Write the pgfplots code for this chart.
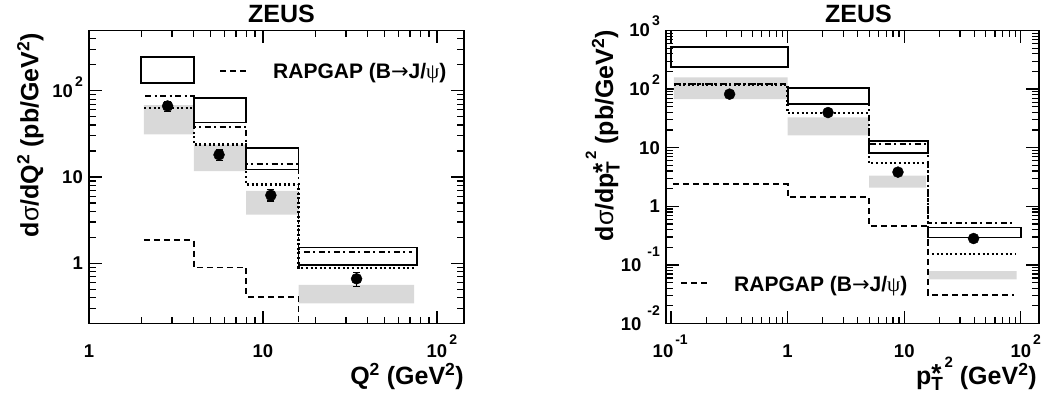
\documentclass[border=0pt]{standalone}
\usepackage{fontspec}
\setmainfont{Liberation Sans}
\newfontfamily\serif{Liberation Serif}
\newfontfamily\dejavu{DejaVu Sans}
\usepackage{pgfplots}
\pgfplotsset{compat=1.18}
\definecolor{grayband}{RGB}{217,217,217}
\newcommand\rexp[2][13bp]{\rlap{\hspace{2bp}\raisebox{#1}{\fontsize{14bp}{14bp}\selectfont #2}}}
\newcommand\rexpw[2][11bp]{\hspace{2bp}\raisebox{#1}{\fontsize{14bp}{14bp}\selectfont #2}}
\newcommand\lab{\fontsize{25bp}{25bp}\selectfont\bfseries}
\newcommand\pTs{p\rlap{\raisebox{-6.5bp}{\fontsize{19bp}{19bp}\selectfont T}}\raisebox{2bp}{\fontsize{26bp}{26bp}\selectfont *}\hspace{3bp}\raisebox{17bp}{\fontsize{15bp}{15bp}\selectfont 2}}
\newcommand\legtext{RAPGAP (B{\dejavu\mdseries →}J/{\serif\mdseries ψ})}
\tikzset{
  gband/.style={fill=grayband, draw=none},
  hbox/.style={black, line width=1.8bp, line cap=rect},
  dsh/.style={black, line width=1.8bp, dash pattern=on 6bp off 4bp},
  dtt/.style={black, line width=2.3bp, dash pattern=on 2bp off 2.6bp},
  dshdt/.style={black, line width=1.8bp, dash pattern=on 6bp off 3.5bp on 2bp off 3.5bp},
}
\begin{document}
\begin{tikzpicture}[x=1bp,y=1bp]
\useasboundingbox (0,0) rectangle (1044,398);
% ---------------- left panel ----------------
\begin{axis}[scale only axis, xmode=log, ymode=log,
  at={(89bp,74.5bp)}, anchor=south west,
  width=375bp, height=293bp,
  xmin=1, xmax=143, ymin=0.2, ymax=500,
  axis line style={line width=1.8bp},
  every tick/.style={black, line width=1.2bp},
  major tick length=13bp, minor tick length=7bp,
  tick align=inside, xtick pos=both, ytick pos=both,
  xticklabel pos=lower, yticklabel pos=left,
  tick label style={font=\fontsize{18.5bp}{18.5bp}\selectfont\bfseries, inner sep=0pt},
  x tick label style={anchor=base, yshift=-33.5bp},
  y tick label style={anchor=base east, xshift=-6bp, yshift=-6.5bp},
  xtick={1,10,100}, xticklabels={1,10,{10\rexp{2}}},
  minor xtick={2,3,4,5,6,7,8,9,20,30,40,50,60,70,80,90},
  ytick={1,10,100}, yticklabels={{1\hspace{6bp}},{10\hspace{12bp}},{10\rexpw{2}}},
  minor ytick={0.3,0.4,0.5,0.6,0.7,0.8,0.9,2,3,4,5,6,7,8,9,20,30,40,50,60,70,80,90,200,300,400},
]
\addplot[gband] coordinates {(2.07,31.3) (4,31.3) (4,68.3) (2.07,68.3) (2.07,31.3)};
\addplot[gband] coordinates {(4,11.7) (8,11.7) (8,23.8) (4,23.8) (4,11.7)};
\addplot[gband] coordinates {(8,3.65) (16,3.65) (16,6.9) (8,6.9) (8,3.65)};
\addplot[gband] coordinates {(16,0.343) (74,0.343) (74,0.562) (16,0.562) (16,0.343)};
\addplot[dsh, const plot] coordinates {(2.07,1.84) (4,0.89) (8,0.41) (16,0.1) (74,0.1)};
\addplot[dtt, const plot] coordinates {(2.08,63.7) (4,23.8) (8,8.2) (16,0.88) (74,0.88)};
\addplot[dshdt, const plot] coordinates {(2.1,86.8) (4,38.4) (8,14.0) (16,1.34) (72,1.34)};
\addplot[hbox] coordinates {(2,122) (4,122) (4,249) (2,249) (2,122)};
\addplot[hbox] coordinates {(4,42.8) (8,42.8) (8,81.6) (4,81.6) (4,42.8)};
\addplot[hbox] coordinates {(8,12.2) (16,12.2) (16,21.6) (8,21.6) (8,12.2)};
\addplot[hbox] coordinates {(16,0.957) (77,0.957) (77,1.52) (16,1.52) (16,0.957)};
\addplot[only marks, mark=*, mark size=5.5bp, black,
    error bars/.cd, y dir=both, y explicit,
    error bar style={line width=1.6bp},
    error mark options={rotate=90, line width=1.6bp, mark size=3.5bp}]
 coordinates {
 (2.83,66.6) += (0,8) -= (0,9.3)
 (5.59,18.1) += (0,2.6) -= (0,2.5)
 (11.1,6.14) += (0,1.0) -= (0,0.9)
 (34.5,0.66) += (0,0.12) -= (0,0.12)
};
\end{axis}
% ---------------- right panel ----------------
\begin{axis}[scale only axis, xmode=log, ymode=log,
  at={(666bp,74.5bp)}, anchor=south west,
  width=373bp, height=293bp,
  xmin=0.0906, xmax=143, ymin=0.01, ymax=1000,
  axis line style={line width=1.8bp},
  every tick/.style={black, line width=1.2bp},
  major tick length=13bp, minor tick length=7bp,
  tick align=inside, xtick pos=both, ytick pos=both,
  xticklabel pos=lower, yticklabel pos=left,
  tick label style={font=\fontsize{18.5bp}{18.5bp}\selectfont\bfseries, inner sep=0pt},
  x tick label style={anchor=base, yshift=-33.5bp},
  y tick label style={anchor=base east, xshift=-6bp, yshift=-6.5bp},
  xtick={0.1,1,10,100}, xticklabels={{\hspace{-16bp}10\rexp{-1}},1,10,{10\rexp{2}}},
  minor xtick={0.2,0.3,0.4,0.5,0.6,0.7,0.8,0.9,2,3,4,5,6,7,8,9,20,30,40,50,60,70,80,90},
  ytick={0.01,0.1,1,10,100,1000},
  yticklabels={{10\hspace{4bp}\rexpw[15bp]{-2}\hspace{-7bp}},{10\hspace{4bp}\rexpw[15bp]{-1}\hspace{-7bp}},{1\hspace{13bp}},{10\hspace{13bp}},{10\rexpw{2}},{10\rexpw{3}}},
  minor ytick={0.02,0.03,0.04,0.05,0.06,0.07,0.08,0.09,0.2,0.3,0.4,0.5,0.6,0.7,0.8,0.9,2,3,4,5,6,7,8,9,20,30,40,50,60,70,80,90,200,300,400,500,600,700,800,900},
]
\addplot[gband] coordinates {(0.106,67.4) (1,67.4) (1,158) (0.106,158) (0.106,67.4)};
\addplot[gband] coordinates {(1,16.3) (5,16.3) (5,33) (1,33) (1,16.3)};
\addplot[gband] coordinates {(5,2.08) (15.3,2.08) (15.3,3.35) (5,3.35) (5,2.08)};
\addplot[gband] coordinates {(16.2,0.0566) (92,0.0566) (92,0.0786) (16.2,0.0786) (16.2,0.0566)};
\addplot[dsh, const plot] coordinates {(0.104,2.38) (1,1.44) (5,0.465) (16,0.0305) (88,0.0305)};
\addplot[dtt, const plot] coordinates {(0.106,120) (1,38.8) (5,5.46) (16,0.152) (90,0.152)};
\addplot[dshdt, const plot] coordinates {(0.108,122) (1,56) (5,11.4) (16,0.517) (90,0.517)};
\addplot[hbox] coordinates {(0.1,235) (1,235) (1,519) (0.1,519) (0.1,235)};
\addplot[hbox] coordinates {(1,56) (5,56) (5,103) (1,103) (1,56)};
\addplot[hbox] coordinates {(5,8.1) (16,8.1) (16,13.0) (5,13.0) (5,8.1)};
\addplot[hbox] coordinates {(16,0.294) (100,0.294) (100,0.436) (16,0.436) (16,0.294)};
\addplot[only marks, mark=*, mark size=5.5bp, black,
    error bars/.cd, y dir=both, y explicit,
    error bar style={line width=1.6bp},
    error mark options={rotate=90, line width=1.6bp, mark size=3.5bp}]
 coordinates {
 (0.318,82) += (0,6) -= (0,6)
 (2.22,39.8) += (0,3) -= (0,3)
 (8.83,3.83) += (0,0.3) -= (0,0.3)
 (39.3,0.282) += (0,0.022) -= (0,0.022)
};
\end{axis}
% ---------------- text ----------------
\node[anchor=base, inner sep=0pt, font=\fontsize{25bp}{25bp}\selectfont\bfseries] at (281.5,375.3) {ZEUS};
\node[anchor=base, inner sep=0pt, font=\fontsize{25bp}{25bp}\selectfont\bfseries] at (858.5,375.3) {ZEUS};
\node[anchor=base east, inner sep=0pt, font=\lab] at (464,13.7) {Q\textsuperscript{2} (GeV\textsuperscript{2})};
\node[anchor=base east, inner sep=0pt, font=\lab] at (1037,13.7) {\pTs{} (GeV\textsuperscript{2})};
\node[rotate=90, anchor=base east, inner sep=0pt, font=\lab] at (38.3,365) {d{\mdseries σ}/dQ\textsuperscript{2} (pb/GeV\textsuperscript{2})};
\node[rotate=90, anchor=base east, inner sep=0pt, font=\lab] at (613,368) {d{\mdseries σ}/d\pTs{} (pb/GeV\textsuperscript{2})};
% legends
\draw[black, line width=1.8bp, dash pattern=on 6bp off 4bp] (220,327.3) -- (246,327.3);
\node[anchor=base west, inner sep=0pt, font=\fontsize{21bp}{21bp}\selectfont\bfseries] at (273,319.7) {\legtext};
\draw[black, line width=1.8bp, dash pattern=on 6bp off 4bp] (681,114.7) -- (707,114.7);
\node[anchor=base west, inner sep=0pt, font=\fontsize{21bp}{21bp}\selectfont\bfseries] at (734,106.3) {\legtext};
\end{tikzpicture}
\end{document}
